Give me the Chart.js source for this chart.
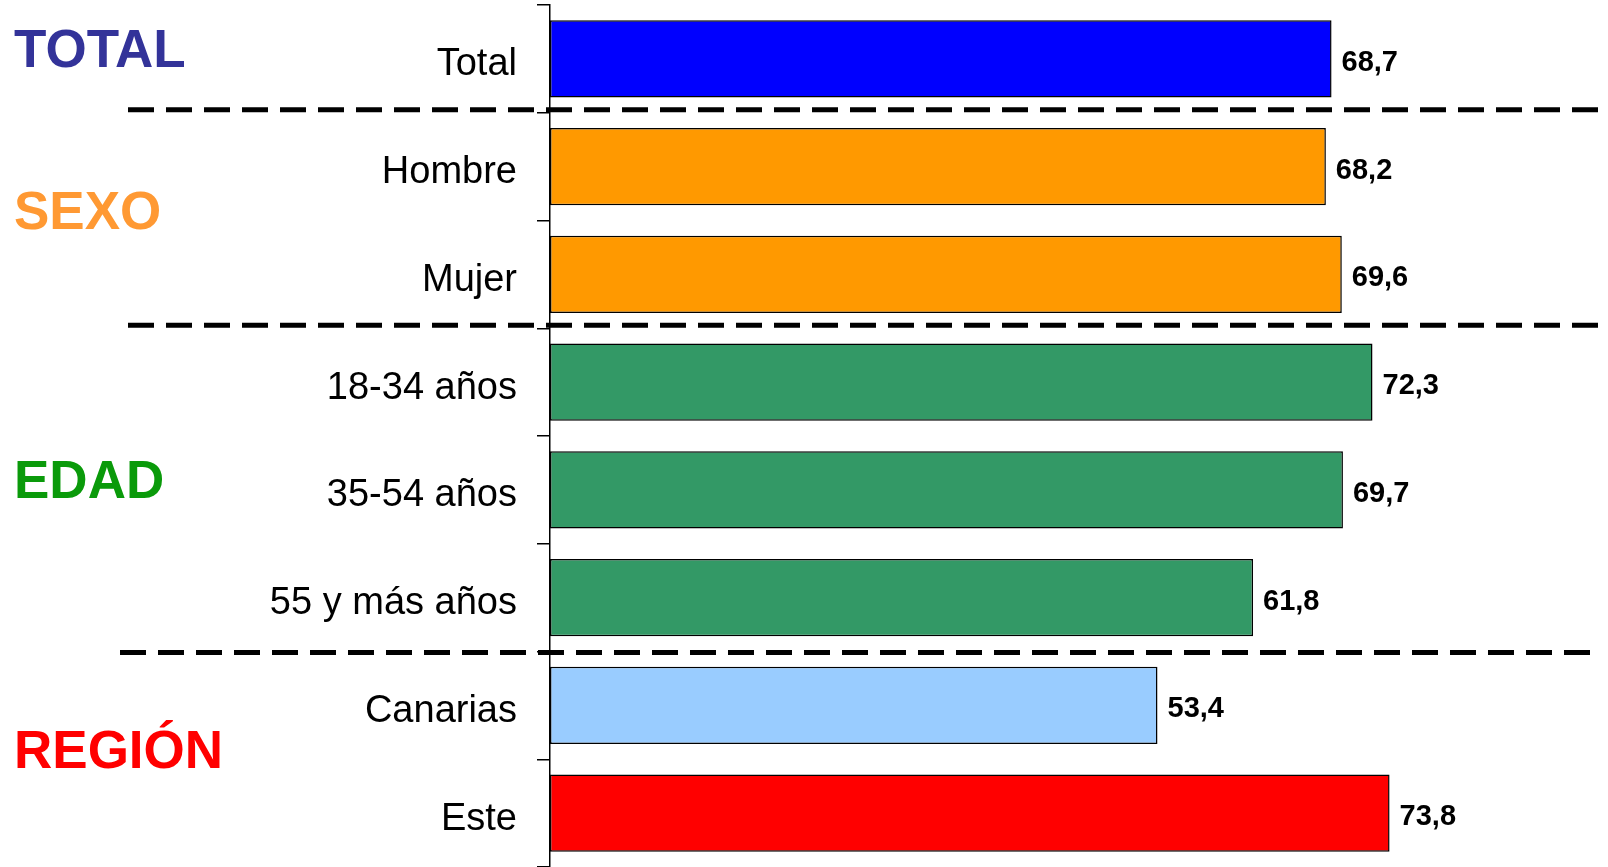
<!DOCTYPE html>
<html lang="es">
<head>
<meta charset="utf-8">
<title>Total / Sexo / Edad / Región</title>
<script src="https://cdn.jsdelivr.net/npm/chart.js@4/dist/chart.umd.min.js"></script>
<style>
  html, body { margin: 0; padding: 0; background: #fff; }
  #chart { display: block; }
</style>
</head>
<body>
<canvas id="chart" width="1608" height="867"></canvas>
<script>
'use strict';

// ─────────────────────────────────────────────
// DATA
// ─────────────────────────────────────────────

const categories = ['Total', 'Hombre', 'Mujer', '18-34 años', '35-54 años', '55 y más años', 'Canarias', 'Este'];
const values     = [68.7, 68.2, 69.6, 72.3, 69.7, 61.8, 53.4, 73.8];
const barColors  = ['#0000FF', '#FF9900', '#FF9900', '#339966', '#339966', '#339966', '#99CCFF', '#FF0000'];

// group headings: label, first / last category index, colour
const groupLabels = ['TOTAL', 'SEXO', 'EDAD', 'REGIÓN'];
const groupFirst  = [0, 1, 3, 6];
const groupLast   = [0, 2, 5, 7];
const groupColors = ['#333399', '#FF9933', '#0A9A0A', '#FF0000'];

// dashed separators are drawn after these category indexes
const separatorsAfter = [0, 2, 5];

const X_MAX = 93;

// ─────────────────────────────────────────────
// PLUGINS
// ─────────────────────────────────────────────

const valueLabels = {
  id: 'valueLabels',
  afterDatasetsDraw(chart) {
    const ctx  = chart.ctx;
    const meta = chart.getDatasetMeta(0);
    ctx.save();
    ctx.font = 'bold 29px "Liberation Sans", Arial, sans-serif';
    ctx.fillStyle = '#000';
    ctx.textAlign = 'left';
    ctx.textBaseline = 'middle';
    meta.data.forEach((bar, i) => {
      const txt = values[i].toFixed(1).replace('.', ',');
      ctx.fillText(txt, bar.x + 10, bar.y + 4);
    });
    ctx.restore();
  }
};

const groupDecor = {
  id: 'groupDecor',
  afterDraw(chart) {
    const ctx = chart.ctx;
    const y   = chart.scales.y;
    const band = y.getPixelForValue(1) - y.getPixelForValue(0);

    // dashed separators
    ctx.save();
    ctx.strokeStyle = '#000';
    ctx.lineWidth = 5;
    ctx.setLineDash([26, 12]);
    separatorsAfter.forEach((idx, n) => {
      const offs = n < 2 ? -3 : 1;
      const yy = y.getPixelForValue(idx) + band / 2 + offs;
      const x0 = n < 2 ? 128 : 120;
      const x1 = n < 2 ? chart.width : chart.width - 10;
      ctx.beginPath();
      ctx.moveTo(x0, yy);
      ctx.lineTo(x1, yy);
      ctx.stroke();
    });
    ctx.restore();

    // group headings
    ctx.save();
    ctx.font = 'bold 53px "Liberation Sans", Arial, sans-serif';
    ctx.textAlign = 'left';
    ctx.textBaseline = 'middle';
    groupLabels.forEach((lbl, i) => {
      const mid = (y.getPixelForValue(groupFirst[i]) + y.getPixelForValue(groupLast[i])) / 2;
      ctx.fillStyle = groupColors[i];
      ctx.fillText(lbl, 14, mid - 6);
    });
    ctx.restore();
  }
};

// ─────────────────────────────────────────────
// CHART
// ─────────────────────────────────────────────

new Chart(document.getElementById('chart').getContext('2d'), {
  type: 'bar',
  data: {
    labels: categories,
    datasets: [{
      data: values,
      backgroundColor: barColors,
      borderColor: '#000',
      borderWidth: 1.5,
      borderSkipped: false,
      categoryPercentage: 1,
      barPercentage: 0.715,
    }]
  },
  options: {
    indexAxis: 'y',
    responsive: false,
    animation: false,
    devicePixelRatio: 1,
    layout: { padding: { top: 5, right: 0, bottom: 0, left: 0 } },
    plugins: {
      legend:  { display: false },
      tooltip: { enabled: false },
    },
    scales: {
      x: {
        display: false,
        min: 0,
        max: X_MAX,
      },
      y: {
        offset: true,
        afterFit(scale) {
          scale.width = 550;
          scale.paddingTop = 0;
          scale.paddingBottom = 0;
        },
        grid: {
          offset: true,
          drawOnChartArea: false,
          drawTicks: true,
          tickLength: 13,
          color: '#000',
          lineWidth: 1.5,
        },
        border: { display: true, color: '#000', width: 1.5 },
        ticks: {
          color: '#000',
          padding: 20,
          labelOffset: 6,
          font: { family: '"Liberation Sans", Arial, sans-serif', size: 38 },
        },
      },
    },
  },
  plugins: [valueLabels, groupDecor],
});
</script>
</body>
</html>
